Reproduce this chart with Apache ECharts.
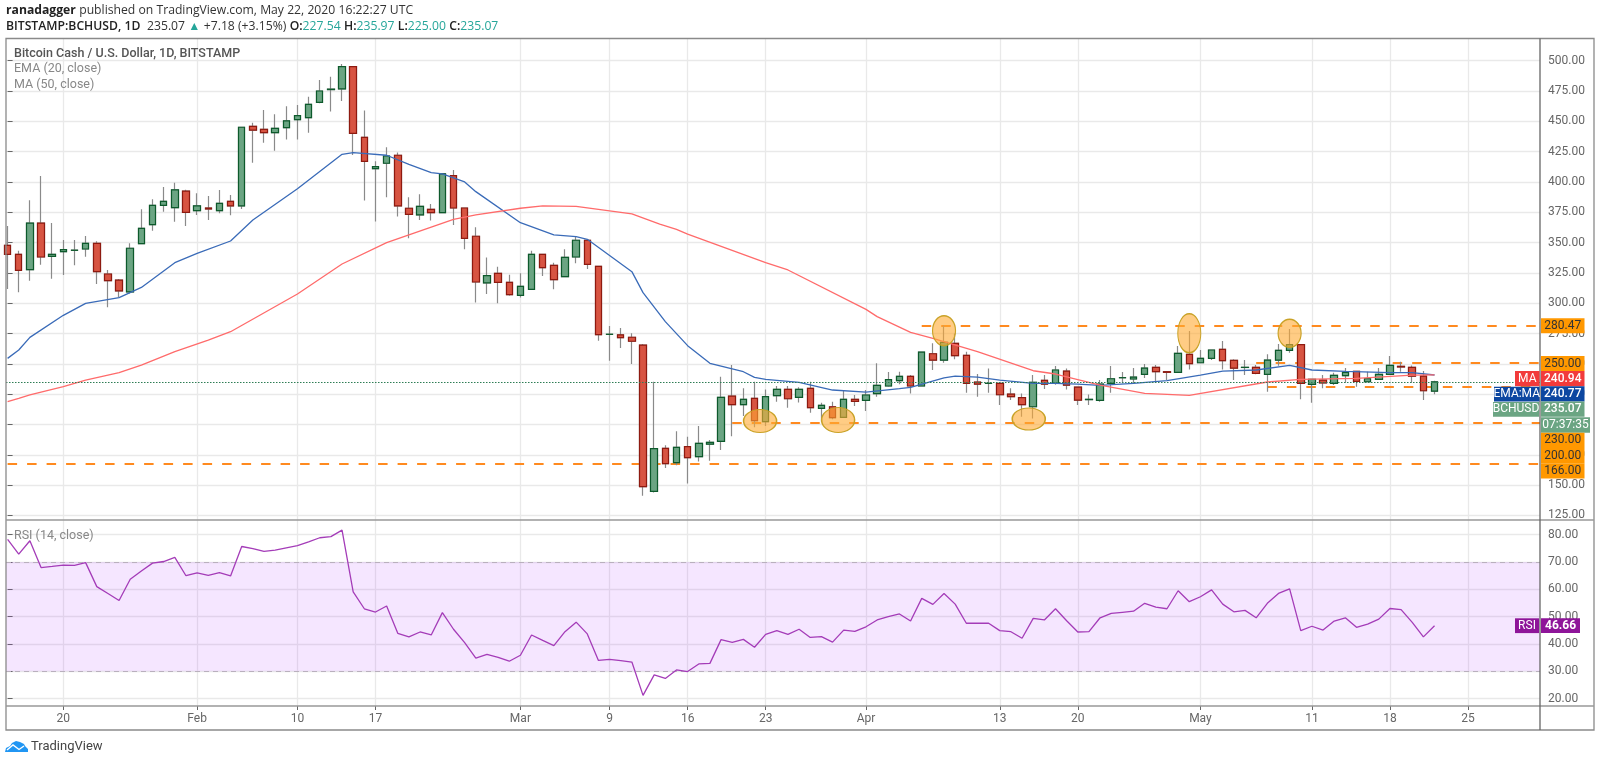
<!DOCTYPE html>
<html><head><meta charset="utf-8">
<style>html,body{margin:0;padding:0;background:#fff}#c{width:1600px;height:763px}</style>
<script src="https://cdn.jsdelivr.net/npm/echarts@6/dist/echarts.min.js"></script>
</head><body><div id="c"></div>
<script>
// day index 0 = 15 Jan 2020
const tickDays=[5,17,26,33,46,54,61,68,77,89,96,107,117,124,131];
const tickLabels=['20','Feb','10','17','Mar','9','16','23','Apr','13','20','May','11','18','25'];
const priceTicks=[125,150,175,200,225,250,275,300,325,350,375,400,425,450,475,500];
const rsiTicks=[20,30,40,50,60,70,80];
const open=[347.7,340.3,327.7,366.1,338.6,342.5,343.6,344.7,349.4,324.1,319.1,309.3,349.1,364.8,380.7,378.8,392.5,376.3,378.5,376.3,384,380.2,445.9,443.4,440.6,444.8,451.4,453,465.7,476.2,476.7,495.1,436.8,411,415.4,422,378.3,372.8,377.4,374.7,405.2,378.5,355.2,316.7,324.6,317.2,306.5,311.4,340.3,331.2,321.9,338.1,351.9,330.4,274.3,273.8,271.9,265.5,144.8,180.3,168.5,181.7,173.4,183.8,186,223.4,216.3,221.5,202.3,223.7,228.9,222.3,229.7,213.3,214.6,205.8,220.7,219.9,225.4,231.7,236.1,239.6,231.7,258.3,253.1,266.9,257,235,233.9,233.9,225,222.1,214.6,236.3,233.9,244,230.8,220.5,219.9,233.9,238.5,237.5,241.3,247,243.5,243,257.8,250.9,254.5,261.9,252.8,247,247,241.3,253.1,261.1,265.8,233,236.6,233.9,240.2,243.8,235.2,237.2,241.3,247.9,247,239.9,227.54];
const close=[340.3,327.1,366.1,338.1,340.3,344.2,343.7,349.4,326,318.6,310.1,345.3,361.7,380.7,384,393.4,374.9,380.2,377.7,382.4,380.2,445.1,442.8,440.6,444.2,450.3,454.7,464,475,476.5,495.1,440.1,417,412.6,421.4,380.2,373.3,379.9,374.7,406.6,378.5,353.5,317.5,322.7,317.2,307,313.9,340.3,329.3,319.4,337.8,351.9,332.1,274,274.4,271.6,268.6,148.7,180,167.7,181.1,172.6,184.4,185.2,222.3,216.3,220.7,203.1,222.9,228.9,221.2,228.9,213.8,215.7,205.6,220.7,219,224.3,232.2,236.9,239.6,231.7,259.7,253.1,267.7,256.7,233.9,233.3,233.95,224.5,222.9,216.3,234.7,233.3,244.9,232.5,220.1,220.7,233.3,237.7,238.6,239.1,246.5,243.5,243,258.6,250.1,254.5,261.4,252.6,246.5,247.1,242.1,253.1,261.1,265.8,233.9,237.2,234.2,240.5,243,235.5,237.7,241.3,248.7,247.4,239.9,227.8,235.07];
const low=[311.7,309,318.6,331.8,320.2,323.3,331.2,338.4,315.8,296.6,304.8,308,349,359.8,375.5,367.2,363.7,372.8,368.6,374.1,372.5,377.7,415.9,432.4,425.8,435.1,435.1,440.6,465,458,466.8,422.2,384.6,367.3,387.3,371.4,353.5,368.6,368.1,374.1,364.5,344.4,300.5,307.6,299.9,306.2,304.6,311.4,322.4,311.4,321.9,332.9,328.2,269.1,252.6,263.1,249.9,141.3,143.8,164.1,166.3,151.2,169.5,170.1,178.9,190.2,206.9,197.6,198.7,218.8,213.8,218.2,209.7,202.3,204.2,205.8,215.2,211.1,222.9,231.1,233.1,225.6,231.7,244.9,250.9,253.7,226.2,222.9,226.2,216,220.1,206.4,205,229.2,232.8,228.9,216,216,218.8,226.2,233.9,233.9,238.3,235.2,236.6,243,245.4,250.9,253.1,245.4,236.6,240.7,241.3,227,248.4,259.2,220.7,217.9,229.8,232.5,234.4,231.1,235.2,236.6,241.3,243.5,234.4,220.1,225];
const high=[363.7,343.3,384.8,404.9,366.1,352.1,352.1,355.4,351,327.4,320,349.4,377.4,385.7,395.8,399.4,393.6,390.6,388.4,393.4,389.2,445.1,448.9,459.3,455.8,462.4,463.5,470.3,484.1,486.8,497.3,495.6,459,417,428.6,424.2,387.3,389.8,381.8,407.1,409.9,378.5,362.6,337.6,330.1,323.5,324.6,343.3,340.3,333.4,344.4,354.9,352.7,330.4,281.2,279.6,275.2,266.4,235.3,182.8,194.3,189.9,198.7,187.1,239.4,249,229.8,235.2,228.9,231.7,231.7,230.6,235.2,217.9,218.8,228.4,224.3,228.4,250.4,243.2,243.5,240.7,260,266.9,281.7,275.1,260,241.6,246.2,233.9,229.8,225.6,240.7,240.7,248.2,246.2,230.8,224.8,236.6,248.2,243.2,246.5,249.8,249,243.5,264.7,277,261.4,261.9,268.8,253.7,253.1,249,257.8,266.3,278.7,265.8,237.2,240.7,242.7,246.5,243.8,243.5,246.5,256.4,251.7,248.7,244,235.97];
const emaDays=[0,1,2,5,7,10,12,15,17,20,22,26,30,31,34,36,38,39,41,42,46,49,51,52,56,57,59,61,63,66,67,68,71,74,77,80,81,84,85,87,89,92,94,96,98,101,104,107,109,112,115,117,120,124,126,128];
const emaValues=[254.5,261.4,271.8,290,299.9,304.6,313,333.4,341.1,351.3,368.6,394.4,422.8,424.2,422,414.5,407.7,406.6,400,392,366.4,356.3,354.9,352.7,326,308.7,284.8,265,250.4,243.5,238.8,237.2,234.7,228.4,226.7,229.5,230.6,238.5,239.9,239.1,236.6,233.9,233.9,233.3,232.2,233.9,236.1,240.7,244,244.9,248.7,244.9,243.8,242.7,242.7,240.77];
const maDays=[0,1,2,5,7,10,12,15,18,20,26,30,34,40,42,46,48,51,56,58.5,60,61,68,70,77,78,81,83,87,92,94,98,102,106,113,116,121,126,128];
const maValues=[218.8,221.5,224.3,231.1,236.6,242.7,249,260,269.6,276.5,307.6,332.3,349.9,369.2,372.8,378.3,380.2,379.9,373.6,365.3,360.9,357,333.4,327.4,294.9,288.9,275.9,271,260,244.3,241.6,232.5,225.6,224,235,237.2,238,240.7,240.94];
const rsi=[78.3,72.9,77.8,68,68.4,68.9,68.8,69.8,61,58.5,55.9,63.7,66.7,69.6,70.2,71.7,65,66,65.1,66.1,64.9,75.7,74.9,73.9,74.4,75.2,76,77.4,78.9,79.3,81.7,59.1,52.9,51.7,53.9,43.9,42.6,44.4,43.3,51.5,45.4,40.5,34.8,36.2,35.1,33.7,35.9,43.3,41.3,39.4,44.5,48,43.7,34,34.4,33.9,33.4,21.2,28.7,27.4,30.5,29.9,32.7,32.9,41.6,40.6,41.7,38.8,43.5,44.9,43.5,45.4,42.4,42.7,40.7,45.1,44.6,46.3,48.8,50,51,48.4,56.7,54.5,58.5,54.6,47.6,47.6,47.6,44.9,44.5,42.1,49.4,48.8,52.9,48.5,44.4,44.5,49.6,51.2,51.6,52,54.9,53.5,52.9,59.5,55.5,57.3,59.8,54.6,51.8,52.3,49.6,54.9,58.5,60.2,44.9,46.5,45.1,48.4,49.6,46.1,47.3,49.1,53,52.6,47.9,42.6,46.66];
const levels=[[82,281.5],[112,251],[113,231],[65,201.2],[0,167.4]]; // [start day, price]
const marks=[[67.5,202.8],[74.5,203.7],[84,277.3],[91.6,204.5],[106,275.2],[115,275.2]];
const markSizes=[[33,23],[33,25],[23,30],[33,22],[23,39],[23,28]];
const lastPrice=235.07;

const FONT='Roboto,sans-serif', HEAD='"Open Sans",sans-serif';
const XMIN=-0.1435, XMAX=137.46;
const fmt2=v=>v.toFixed(2);
const days=open.map((_,i)=>i);
const bodyTop=days.map(i=>Math.max(open[i],close[i]));
const bodyBot=days.map(i=>Math.min(open[i],close[i]));
const GRID='#e9e9e9';

function xAxis(idx,showLabel){return {
  type:'value',gridIndex:idx,min:XMIN,max:XMAX,
  axisLine:{show:false},
  axisTick:{show:showLabel,customValues:tickDays,length:4,lineStyle:{color:'#666'}},
  axisLabel:{show:showLabel,customValues:tickDays,margin:7,color:'#666',fontSize:12,fontFamily:FONT,
    formatter:v=>tickLabels[tickDays.indexOf(v)]||''},
  splitLine:{show:true,lineStyle:{color:GRID,width:1.3}}
};}
function yAxis(idx,min,max,ticks){return {
  type:'value',gridIndex:idx,position:'right',min,max,
  axisLine:{show:false},
  axisTick:{show:true,customValues:ticks,length:5,lineStyle:{color:'#666'}},
  axisLabel:{show:true,customValues:ticks,margin:8,color:'#666',fontSize:12,fontFamily:FONT,formatter:fmt2},
  splitLine:{show:true,lineStyle:{color:GRID,width:1.3}}
};}
function dashLine(start,price){return [{coord:[start,price]},{coord:[XMAX,price]}];}

function tag(x,y,w,h,text,bg,fg,weight){return {type:'rect',z:50,shape:{x,y,width:w,height:h},style:{fill:bg},
  textContent:{z:51,style:{text,fill:fg||'#fff',font:(weight||'normal')+' 12px '+FONT}},textConfig:{position:'inside'}};}
function line(x1,y1,x2,y2,c,w){return {type:'line',z:40,shape:{x1,y1,x2,y2},style:{stroke:c,lineWidth:w||1.3}};}
function txt(x,y,text,fill,size,weight){return {type:'text',z:45,x,y,style:{text,fill,font:(weight||'normal')+' '+(size||12.5)+'px '+FONT,textVerticalAlign:'middle'}};}

const ORANGE='#ff9800';
const rs=(c,w)=>({fill:c,fontSize:12.2,fontFamily:HEAD,fontWeight:w||'normal'});

const option={
  animation:false,backgroundColor:'#fff',
  grid:[{left:6,top:38.5,width:1534,height:481.5},{left:6,top:520,width:1534,height:186}],
  xAxis:[xAxis(0,false),xAxis(1,true)],
  yAxis:[yAxis(0,121.2,518.3,priceTicks),yAxis(1,17.3,85.4,rsiTicks)],
  series:[
    {type:'candlestick',name:'wick',xAxisIndex:0,yAxisIndex:0,barWidth:7,z:3,
     data:days.map(i=>[i,open[i],close[i],low[i],high[i]]),
     itemStyle:{color:'#888',color0:'#888',borderColor:'#8a8a8a',borderColor0:'#8a8a8a',borderColorDoji:'#8a8a8a',borderWidth:1.2},
     markLine:{silent:true,symbol:'none',animation:false,z:2,label:{show:false},
       lineStyle:{color:'#ff8a1f',type:[9.5,10],width:2},
       data:levels.map(l=>dashLine(l[0],l[1]))}
    },
    {type:'candlestick',name:'BCHUSD',xAxisIndex:0,yAxisIndex:0,barWidth:7,z:4,
     data:days.map(i=>[i,open[i],close[i],bodyBot[i],bodyTop[i]]),
     itemStyle:{color:'#6ba583',color0:'#d75442',borderColor:'#0d5a2c',borderColor0:'#8e1a10',borderColorDoji:'#444',borderWidth:1.2},
     markLine:{silent:true,symbol:'none',animation:false,z:6,label:{show:false},
       lineStyle:{color:'#2e7d55',type:[1.5,1.5],width:1},
       data:[[{coord:[XMIN,lastPrice]},{coord:[XMAX,lastPrice]}]]},
     markPoint:{silent:true,animation:false,z:7,label:{show:false},symbol:'circle',
       itemStyle:{color:'rgba(255,170,50,0.6)',borderColor:'#c9a227',borderWidth:1.3},
       data:marks.map((m,i)=>({coord:m,symbolSize:markSizes[i]}))}
    },
    {type:'line',name:'EMA',xAxisIndex:0,yAxisIndex:0,z:5,symbol:'none',data:emaDays.map((d,i)=>[d,emaValues[i]]),lineStyle:{color:'#3a6bb8',width:1.3}},
    {type:'line',name:'MA',xAxisIndex:0,yAxisIndex:0,z:5,symbol:'none',data:maDays.map((d,i)=>[d,maValues[i]]),lineStyle:{color:'#ff6b6b',width:1.3}},
    {type:'line',name:'RSI',xAxisIndex:1,yAxisIndex:1,z:5,symbol:'none',data:days.map(i=>[i,rsi[i]]),lineStyle:{color:'#a43cb8',width:1.3},
     markArea:{silent:true,animation:false,itemStyle:{color:'rgba(180,60,255,0.13)'},data:[[{coord:[XMIN,70]},{coord:[XMAX,30]}]]},
     markLine:{silent:true,symbol:'none',animation:false,label:{show:false},lineStyle:{color:'#b9b0bd',type:[5,4],width:1},
       data:[[{coord:[XMIN,70]},{coord:[XMAX,70]}],[{coord:[XMIN,30]},{coord:[XMAX,30]}]]}
    }
  ],
  graphic:{elements:[
    {type:'rect',z:40,shape:{x:6,y:38.5,width:1588,height:691.5},style:{fill:'none',stroke:'#8a8a8a',lineWidth:1.3}},
    line(6,520,1594,520,'#999'),line(6,706,1594,706,'#999'),line(1540,38.5,1540,730,'#666'),
    txt(14,54,'Bitcoin Cash / U.S. Dollar, 1D, BITSTAMP','#555',12.5,'500'),
    txt(14,69,'EMA (20, close)','#888'),txt(14,84.5,'MA (50, close)','#888'),
    txt(14,535.5,'RSI (14, close)','#888'),
    {type:'text',z:45,x:6,y:11,style:{text:'{b|ranadagger} {n|published on TradingView.com, May 22, 2020 16:22:27 UTC}',textVerticalAlign:'middle',
      rich:{b:rs('#222','bold'),n:rs('#333')}}},
    {type:'text',z:45,x:6,y:27,style:{text:'{b|BITSTAMP:BCHUSD, 1D}  {n|235.07} {g|▲} {n|+7.18 (+3.15%)} {b|O:}{g|227.54} {b|H:}{g|235.97} {b|L:}{g|225.00} {b|C:}{g|235.07}',textVerticalAlign:'middle',
      rich:{b:rs('#222','600'),n:rs('#333'),g:rs('#26a69a')}}},
    tag(1541,318.3,43.5,15,'280.47',ORANGE,'#333'),
    tag(1541,356,43.5,15,'250.00',ORANGE,'#333'),
    tag(1515,371,24.5,15.2,'MA','#f23b3b'),tag(1541,371,43.5,15.2,'240.94','#f23b3b','#fff','500'),
    tag(1494,386.7,45.5,14.8,'EMA:MA','#0d47a1'),tag(1541,386.2,43.5,15.2,'240.77','#0d47a1','#fff','500'),
    tag(1493,402,46,14.8,'BCHUSD','#6ba583'),tag(1541,401.6,43.5,15.2,'235.07','#6ba583','#fff','500'),
    tag(1541,417.3,49,15.4,'07:37:35','#6ba583'),
    tag(1541,432.7,43.5,15.3,'230.00',ORANGE,'#333'),
    tag(1541,448,43.5,15.2,'200.00',ORANGE,'#333'),
    tag(1541,463.2,43.5,15.2,'166.00',ORANGE,'#333'),
    tag(1515,618.3,24,14.8,'RSI','#8e1599'),tag(1541,618.3,39,14.8,'46.66','#8e1599','#fff','bold'),
    {type:'polygon',z:45,shape:{points:[[5,752],[6,748],[10,746],[12,743],[16,741],[20,742],[24,744],[25,746],[28,749],[28,752]]},style:{fill:'#2196f3'}},
    {type:'polyline',z:46,shape:{points:[[7,750],[13,745],[19,749.5],[24,746]]},style:{stroke:'#fff',fill:'none',lineWidth:1.4}},
    txt(31,747,'TradingView','#444',13)
  ]}
};
const chart=echarts.init(document.getElementById('c'),null,{renderer:'canvas',width:1600,height:763});
chart.setOption(option);
</script></body></html>
